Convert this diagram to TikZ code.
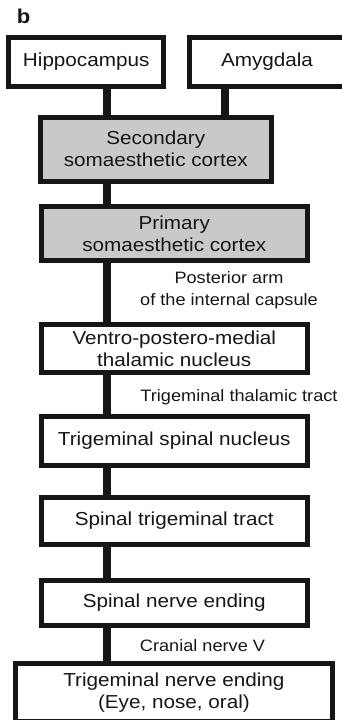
\documentclass[tikz,border=0pt]{standalone}
\usepackage{fontspec}
\setmainfont{Liberation Sans}[FakeStretch=1.1]
\usepackage{tikz}
\usetikzlibrary{positioning, calc}
\definecolor{cortexgray}{RGB}{200,201,201}
\definecolor{inkblack}{RGB}{22,22,22}

\begin{document}
\begin{tikzpicture}[
  x=1pt, y=-1pt,
  every node/.style={font=\fontsize{18.8}{22}\selectfont, text=inkblack},
  box/.style={rectangle, draw=inkblack, line width=5pt, fill=#1, align=center,
              inner sep=0pt, minimum width=266.5pt},
  box/.default=white,
  link/.style={draw=inkblack, line width=8pt},
  tract/.style={align=center, font=\fontsize{16.5}{22}\selectfont},
]
\clip (0,0) rectangle (342,720);

% panel letter
\node[font=\bfseries\fontsize{20}{22}\selectfont] (panel) at (23.5, 16) {b};

% limbic inputs
\node[box, minimum width=154.5pt, minimum height=49pt] (hippo) at (86.2, 62) {Hippocampus};
\node[box, minimum width=155pt, minimum height=49pt] (amyg) at (267, 62) {Amygdala};

% cortex
\node[box=cortexgray, minimum width=231.5pt, minimum height=64.5pt] (s2) at (155.75, 149.25)
  {Secondary\\somaesthetic cortex};
\node[box=cortexgray, minimum height=54pt] (s1) at (174.25, 233.5)
  {Primary\\somaesthetic cortex};

% relay chain
\node[box, minimum height=48pt] (vpm) at (174.25, 348.5) {Ventro-postero-medial\\thalamic nucleus};
\node[box, minimum height=49pt] (spnuc) at (174.25, 441) {Trigeminal spinal nucleus};
\node[box, minimum height=47pt] (sptract) at (174.25, 521) {Spinal trigeminal tract};
\node[box, minimum height=45pt] (spend) at (174.25, 603) {Spinal nerve ending};
\node[box, minimum width=317pt, minimum height=58pt] (trend) at (173.9, 692.5)
  {Trigeminal nerve ending\\(Eye, nose, oral)};

% connector columns
\coordinate (spine) at (106.5, 0);
\coordinate (amygx) at (224.5, 0);

\draw[link] (hippo.south -| spine) -- (s2.north -| spine);
\draw[link] (amyg.south -| amygx) -- (s2.north -| amygx);
\draw[link] (s2.south -| spine) -- (s1.north -| spine);
\draw[link] (s1.south -| spine) -- (vpm.north -| spine);
\draw[link] (vpm.south -| spine) -- (spnuc.north -| spine);
\draw[link] (spnuc.south -| spine) -- (sptract.north -| spine);
\draw[link] (sptract.south -| spine) -- (spend.north -| spine);
\draw[link] (spend.south -| spine) -- (trend.north -| spine);

% tract labels
\node[tract] (capsule) at (229, 290) {Posterior arm\\of the internal capsule};
\node[tract] (ttt) at (239, 397) {Trigeminal thalamic tract};
\node[tract] (cn5) at (202.5, 646) {Cranial nerve V};
\end{tikzpicture}
\end{document}
